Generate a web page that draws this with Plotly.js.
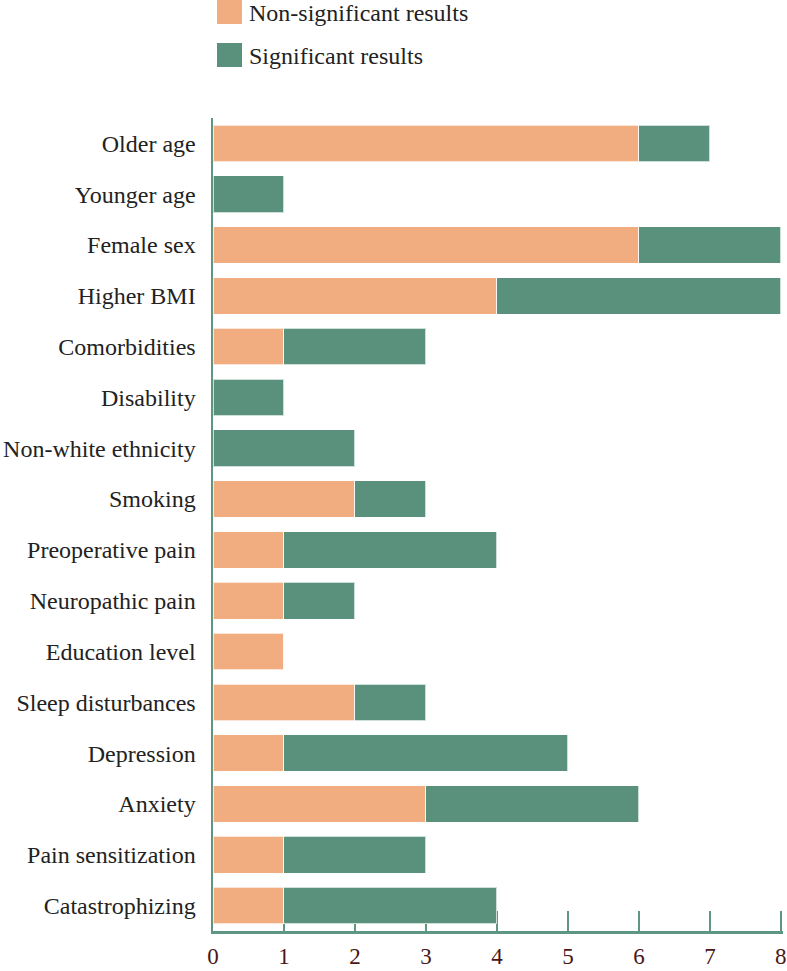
<!DOCTYPE html>
<html>
<head>
<meta charset="utf-8">
<script src="https://cdn.plot.ly/plotly-3.0.1.min.js"></script>
<style>
  html, body { margin: 0; padding: 0; background: #ffffff; }
  #chart { width: 787px; height: 971px; }
</style>
</head>
<body>
<div id="chart"></div>
<script>
// Factors examined, listed top to bottom
const factors = [
  "Older age", "Younger age", "Female sex", "Higher BMI", "Comorbidities",
  "Disability", "Non-white ethnicity", "Smoking", "Preoperative pain",
  "Neuropathic pain", "Education level", "Sleep disturbances", "Depression",
  "Anxiety", "Pain sensitization", "Catastrophizing"
];

// Number of studies per factor
const nonSignificant = [6, 0, 6, 4, 1, 0, 0, 2, 1, 1, 1, 2, 1, 3, 1, 1];
const significant    = [1, 1, 2, 4, 2, 1, 2, 1, 3, 1, 0, 1, 4, 3, 2, 3];

const xTicks = [0, 1, 2, 3, 4, 5, 6, 7, 8];

const seriesNames = ["Non-significant results", "Significant results"];

const ORANGE = "#F1AC7F";
const GREEN = "#5A917D";
const AXIS_GREEN = "#5E9682";
const SERIF = "Liberation Serif";

const barOutline = { color: "rgba(255,255,255,0.7)", width: 1 };

const traces = [
  {
    type: "bar",
    orientation: "h",
    name: seriesNames[0],
    y: factors,
    x: nonSignificant,
    marker: { color: ORANGE, line: barOutline },
    width: 0.72,
    hoverinfo: "y+x+name"
  },
  {
    type: "bar",
    orientation: "h",
    name: seriesNames[1],
    y: factors,
    x: significant,
    marker: { color: GREEN, line: barOutline },
    width: 0.72,
    hoverinfo: "y+x+name"
  }
];

// Legend drawn as large swatches with text beside them
const legendItems = [
  { label: seriesNames[0], color: ORANGE, top: 0, bottom: 24 },
  { label: seriesNames[1], color: GREEN, top: 43, bottom: 67 }
];
const H = 971, W = 787;
const mL = 213, mR = 4, mT = 118, mB = 40;
const plotW = W - mL - mR, plotH = H - mT - mB;
const px = v => (v - mL) / plotW;
const py = v => 1 - (v - mT) / plotH;

const shapes = legendItems.map(it => ({
  type: "rect", xref: "paper", yref: "paper",
  x0: px(217), x1: px(242), y0: py(it.bottom), y1: py(it.top),
  fillcolor: it.color, line: { width: 0 }
}));
const annotations = legendItems.map(it => ({
  xref: "paper", yref: "paper",
  x: px(247), y: py((it.top + it.bottom) / 2 + 1),
  xanchor: "left", yanchor: "middle",
  text: it.label, showarrow: false,
  font: { family: SERIF, size: 24, color: "#222222" }
}));

const layout = {
  width: W,
  height: H,
  margin: { l: mL, r: mR, t: mT, b: mB, pad: 0 },
  paper_bgcolor: "#ffffff",
  plot_bgcolor: "#ffffff",
  barmode: "stack",
  showlegend: false,
  font: { family: SERIF, size: 24, color: "#222222" },
  xaxis: {
    // a little headroom past 8 so the last tick mark stays inside the plot area
    range: [0, 8.03],
    tickvals: xTicks,
    ticktext: xTicks.map(String),
    showgrid: false,
    zeroline: false,
    showline: true,
    linecolor: AXIS_GREEN,
    linewidth: 2.5,
    ticks: "inside",
    ticklen: 20,
    tickwidth: 2.5,
    tickcolor: AXIS_GREEN,
    layer: "below traces",
    ticklabelstandoff: 3,
    ticklabeloverflow: "allow",
    tickfont: { family: SERIF, size: 23, color: "#4A1616" },
    fixedrange: true
  },
  yaxis: {
    type: "category",
    categoryorder: "array",
    categoryarray: factors,
    autorange: false,
    range: [15.5, -0.5],
    showgrid: false,
    zeroline: false,
    showline: true,
    linecolor: AXIS_GREEN,
    linewidth: 2.5,
    ticks: "",
    ticklabelstandoff: 10,
    tickfont: { family: SERIF, size: 24, color: "#222222" },
    fixedrange: true
  },
  shapes: shapes,
  annotations: annotations
};

Plotly.newPlot("chart", traces, layout, { displayModeBar: false, staticPlot: true });
</script>
</body>
</html>
